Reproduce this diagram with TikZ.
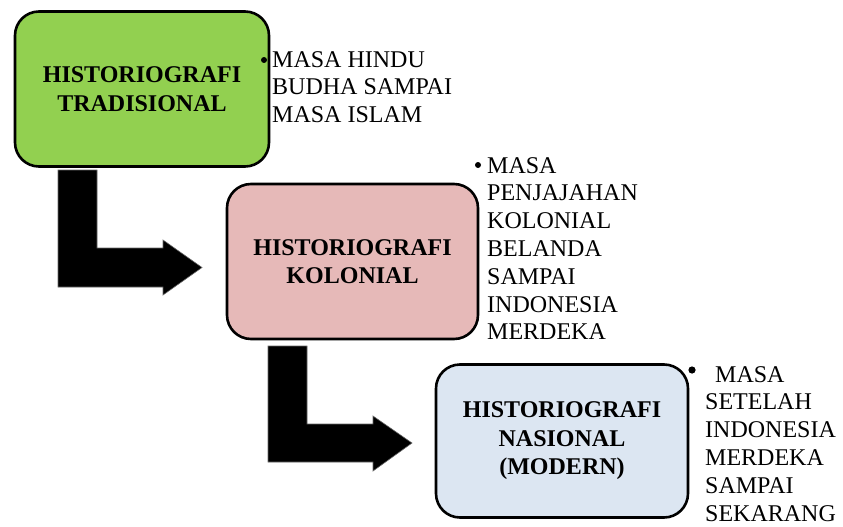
\documentclass[tikz,border=0pt]{standalone}
\usepackage{fontspec}
\setmainfont{Liberation Serif}
\definecolor{boxgreen}{HTML}{92D050}
\definecolor{boxpink}{HTML}{E6B9B8}
\definecolor{boxblue}{HTML}{DCE6F2}
\tikzset{
  stage/.style={draw=black, line width=2.6pt, rounded corners=24pt, inner sep=0pt,
    align=center, font=\fontsize{24}{28.5}\selectfont\bfseries},
  period/.style={anchor=north west, inner sep=0pt, align=left,
    font=\fontsize{24}{27.8}\selectfont},
  bentarrow/.style={fill=black, draw=black!60, line width=0.6pt},
  dot/.style={fill=black}
}
\begin{document}
\begin{tikzpicture}[x=1pt,y=-1pt]
\useasboundingbox (0,0) rectangle (843,527);
% boxes
\node[stage, fill=boxgreen, minimum width=254pt, minimum height=155pt] (b1) at (142,89) {HISTORIOGRAFI\\TRADISIONAL};
\node[stage, fill=boxpink, minimum width=251pt, minimum height=155pt] (b2) at (352.5,261.5) {HISTORIOGRAFI\\KOLONIAL};
\node[stage, fill=boxblue, minimum width=252pt, minimum height=153pt] (b3) at (562,441) {HISTORIOGRAFI\\NASIONAL\\(MODERN)};
% bent arrows
\draw[bentarrow] (58,170) -- (97,170) -- (97,248) -- (163,248) -- (163,240) -- (202,267.5) -- (163,295) -- (163,287) -- (58,287) -- cycle;
\draw[bentarrow] (268,346) -- (307,346) -- (307,424) -- (373,424) -- (373,416) -- (412,443) -- (373,471) -- (373,462) -- (268,462) -- cycle;
% bullets
\fill[dot] (264,60) circle (3pt);
\fill[dot] (478,165) circle (3pt);
\fill[dot] (692,370) circle (3.6pt);
% texts
\node[period] (t1) at (272,51) {MASA HINDU\\BUDHA SAMPAI\\MASA ISLAM};
\node[period] (t2) at (487,157) {MASA\\PENJAJAHAN\\KOLONIAL\\BELANDA\\SAMPAI\\INDONESIA\\MERDEKA};
\node[period] (t3) at (705,366) {\hspace*{10pt}MASA\\SETELAH\\INDONESIA\\MERDEKA\\SAMPAI\\SEKARANG};
\end{tikzpicture}
\end{document}
